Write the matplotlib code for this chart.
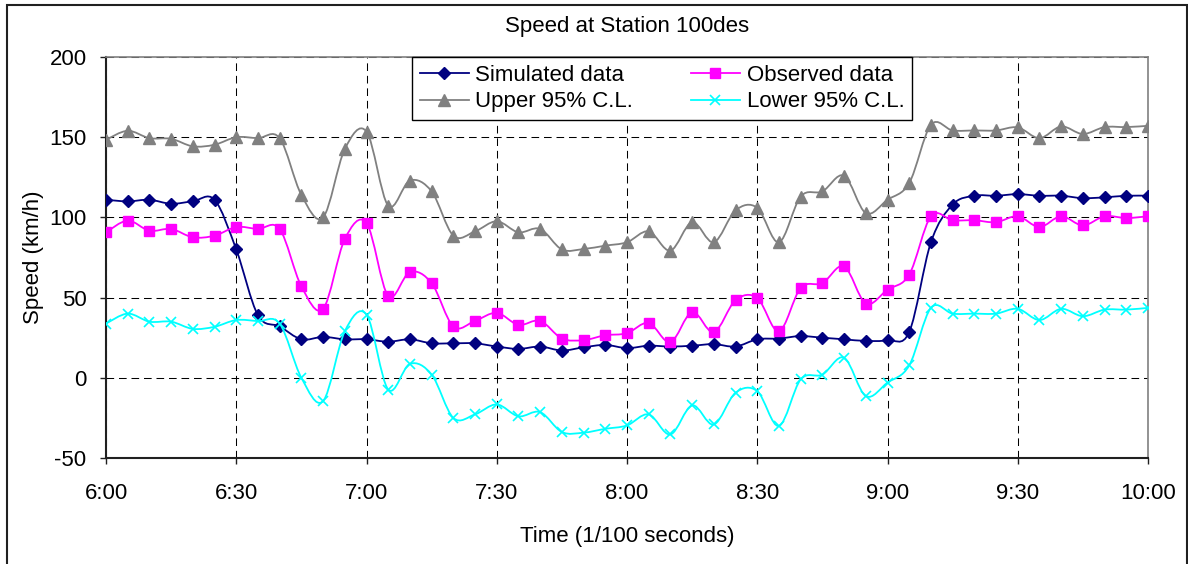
import numpy as np
import matplotlib
matplotlib.use("Agg")
import matplotlib.pyplot as plt
from matplotlib.path import Path
from matplotlib.patches import PathPatch, Rectangle
from matplotlib.lines import Line2D

plt.rcParams['font.family'] = ['Liberation Sans', 'DejaVu Sans']
plt.rcParams['lines.scale_dashes'] = False
plt.rcParams['axes.unicode_minus'] = False

# Data (5 minute intervals, 6:00 - 10:00)
times = ["%d:%02d" % (6 + m // 60, m % 60) for m in range(0, 241, 5)]

simulated = [111, 110, 111, 108.5, 110, 111, 80, 39, 32, 24, 25.5, 24,
             24, 22.5, 24, 21.5, 21.5, 21.5, 19.5, 18, 19.5, 17, 19, 20.5,
             18.5, 20, 19.5, 20, 21, 19.5, 24, 24.5, 26, 25, 24, 23,
             23.5, 28.5, 84.5, 108, 113.5, 113.5, 114.5, 113.5, 113.5, 112, 112.5, 113.5,
             113.5]

observed = [90.7, 98, 91.7, 92.8, 87.6, 88.6, 94, 92.8, 92.8, 57, 43, 86.5,
            96.5, 51, 66, 59, 32, 35.5, 40.5, 33, 35.5, 24.5, 23.5, 26.5,
            27.8, 34.2, 22.2, 41, 28.4, 48.4, 49.8, 29, 56, 59, 69.5, 46.3,
            55, 64.3, 100.7, 98.2, 98.2, 97, 100.7, 94, 100.7, 95, 100.7, 99.6,
            100.7]

upper = [148.4, 154, 149.4, 149, 144.3, 145.3, 150, 149.4, 149.4, 114, 100, 142.6,
         153.5, 107.3, 123, 116.2, 88.6, 91.3, 97.6, 90.7, 92.8, 80, 80.3, 82.4,
         84.5, 91.3, 79.3, 97, 84.5, 104.4, 106, 84.5, 113, 116.2, 126, 102.7,
         111, 121.4, 157.7, 154.2, 154.2, 154.2, 156.1, 149.4, 156.7, 152, 156.3, 156.3,
         157.1]

lower = [33.8, 40, 35, 35, 30.5, 31.8, 36, 35.3, 33.8, 0, -14.5, 29,
         39.4, -7.3, 8.7, 2, -25, -22.8, -16.6, -24, -21.4, -33.8, -34.2, -31.8,
         -29.7, -22.8, -35.3, -17.2, -29.1, -9.3, -8.3, -30, -1, 2, 12.5, -11.4,
         -3, 7.7, 43.6, 40, 40, 40, 43, 36, 43, 38.4, 42.5, 42.5,
         43.6]

tick_labels = ["6:00", "6:30", "7:00", "7:30", "8:00", "8:30", "9:00", "9:30", "10:00"]

x = np.array([int(t.split(":")[0]) * 60 + int(t.split(":")[1]) - 360 for t in times], dtype=float)


def smooth_path(xs, ys):
    # Excel-like smoothed line: Catmull-Rom converted to cubic bezier
    pts = np.column_stack([xs, ys])
    verts = [pts[0]]
    codes = [Path.MOVETO]
    n = len(pts)
    for i in range(n - 1):
        p0 = pts[i - 1] if i > 0 else pts[i]
        p1 = pts[i]
        p2 = pts[i + 1]
        p3 = pts[i + 2] if i + 2 < n else pts[i + 1]
        c1 = p1 + (p2 - p0) / 6.0
        c2 = p2 - (p3 - p1) / 6.0
        verts += [c1, c2, p2]
        codes += [Path.CURVE4] * 3
    return Path(verts, codes)


fig = plt.figure(figsize=(11.88, 5.64), dpi=100)
ax = fig.add_axes([106 / 1188, 1 - 458 / 564, 1042 / 1188, 401 / 564])

series = [
    ("Simulated data", simulated, "#000080", "D", 6.6, 4),
    ("Observed data", observed, "#FF00FF", "s", 7, 5),
    ("Upper 95% C.L.", upper, "#808080", "^", 8, 6),
    ("Lower 95% C.L.", lower, "#00FFFF", "x", 7.5, 7),
]

handles = []
for name, vals, col, mk, ms, z in series:
    ax.add_patch(PathPatch(smooth_path(x, vals), facecolor="none", edgecolor=col,
                           lw=1.3, zorder=z))
    if mk == "x":
        ax.plot(x, vals, linestyle="none", marker=mk, color=col, markersize=ms,
                markeredgewidth=1.2, zorder=z + 0.5)
    else:
        ax.plot(x, vals, linestyle="none", marker=mk, color=col, markersize=ms,
                markeredgecolor=col, zorder=z + 0.5)
    handles.append(Line2D([], [], color=col, lw=1.3, marker=mk, markersize=ms,
                          markeredgewidth=1.2 if mk == "x" else 1.0))

ax.set_xlim(0, 240)
ax.set_ylim(-50, 200)
ax.set_xticks(np.arange(0, 241, 30))
ax.set_xticklabels(tick_labels)
ax.set_yticks(np.arange(-50, 201, 50))

ax.grid(True, color="black", lw=0.75, linestyle=(0, (5.5, 3.5)), zorder=1)
ax.set_axisbelow(True)

for s in ["top", "right"]:
    ax.spines[s].set_color("#808080")
    ax.spines[s].set_linewidth(1.2)
for s in ["left", "bottom"]:
    ax.spines[s].set_color("#202020")
    ax.spines[s].set_linewidth(1.5)

ax.tick_params(axis="both", direction="out", length=4, width=1, color="#202020",
               labelsize=16)
ax.tick_params(axis="x", pad=14)
ax.tick_params(axis="y", pad=10)

ax.set_title("Speed at Station 100des", fontsize=16, pad=18)
ax.set_xlabel("Time (1/100 seconds)", fontsize=16, labelpad=16)
ax.set_ylabel("Speed (km/h)", fontsize=16, labelpad=4)

# legend: row 1 Simulated / Observed, row 2 Upper / Lower
order = [0, 2, 1, 3]
leg = ax.legend([handles[i] for i in order], [series[i][0] for i in order],
                ncol=2, loc="upper left", bbox_to_anchor=(0.2937, 1.0),
                borderaxespad=0, fontsize=16, frameon=True, fancybox=False,
                edgecolor="black", framealpha=1, handlelength=2.2,
                handletextpad=0.3, columnspacing=2.6, labelspacing=0.25,
                borderpad=0.35)
leg.get_frame().set_linewidth(1.0)
leg.set_zorder(20)

# outer chart border
fig.add_artist(Rectangle((7 / 1188, -0.01), 1180 / 1188, 1.01 - 5 / 564,
                         transform=fig.transFigure, fill=False,
                         edgecolor="#202020", lw=1.5))

fig.savefig("out.png", dpi=100)
